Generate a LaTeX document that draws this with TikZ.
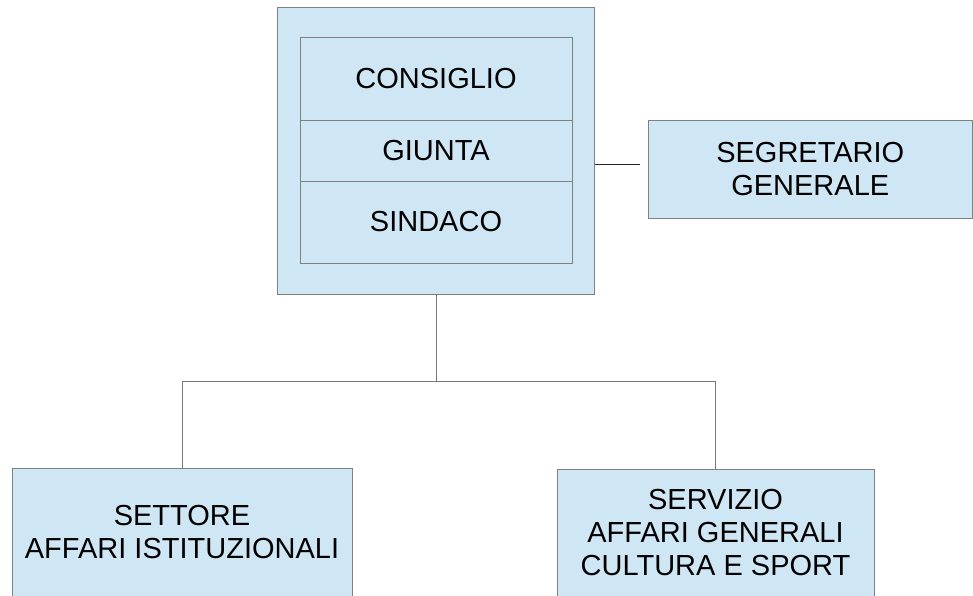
\documentclass[tikz,border=0pt]{standalone}
\usepackage{fontspec}
\setmainfont{Liberation Sans}
\definecolor{boxfill}{RGB}{207,231,245}
\definecolor{boxline}{RGB}{128,128,128}
\definecolor{conline}{RGB}{120,120,120}
\begin{document}
\begin{tikzpicture}[x=1pt,y=-1pt,
  orgbox/.style={draw=boxline,fill=boxfill,line width=0.9pt,inner sep=0pt,outer sep=0pt,
    align=center,font=\fontsize{29}{33}\selectfont},
  conn/.style={draw=conline,line width=0.9pt}]
\useasboundingbox (0,0) rectangle (973,595);
% outer box
\node[orgbox,minimum width=317,minimum height=287] (outer) at (436,150.5) {};
\node[orgbox,minimum width=272,minimum height=83] (consiglio) at (436,78.5) {CONSIGLIO};
\node[orgbox,minimum width=272,minimum height=61] (giunta) at (436,150.5) {GIUNTA};
\node[orgbox,minimum width=272,minimum height=82] (sindaco) at (436,222) {SINDACO};
% segretario
\node[orgbox,minimum width=324.5,minimum height=98] (segr) at (810.25,169) {SEGRETARIO\\GENERALE};
% bottom boxes
\node[orgbox,minimum width=340,minimum height=129] (settore) at (182,532.5) {SETTORE\\AFFARI ISTITUZIONALI};
\node[orgbox,minimum width=317,minimum height=128] (servizio) at (715.5,533) {SERVIZIO\\AFFARI GENERALI\\CULTURA E SPORT};
% connectors
\coordinate (j) at (436,381);
\coordinate (s1) at (640,164);
\draw[conn] (outer.south) -- (j);
\draw[conn] (settore.north) |- (j);
\draw[conn] (servizio.north) |- (j);
\draw[line width=0.9pt,draw=black!85] (outer.east |- s1) -- (s1);
\end{tikzpicture}
\end{document}
